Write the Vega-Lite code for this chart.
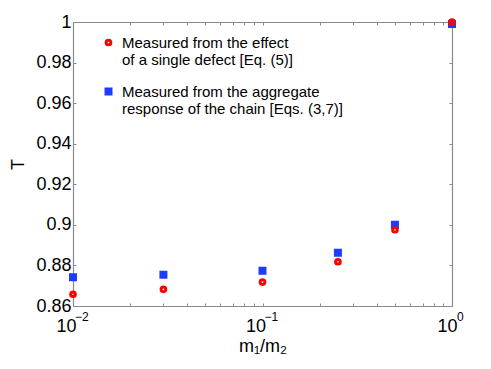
{
  "$schema": "https://vega.github.io/schema/vega-lite/v6.json",
  "width": 379,
  "height": 284,
  "autosize": "none",
  "padding": {"left": 73, "top": 22, "right": 39, "bottom": 63},
  "background": "white",
  "config": {
    "view": {"stroke": null},
    "font": "Liberation Sans",
    "axis": {
      "grid": false,
      "domainColor": "#8a8a8a",
      "domainWidth": 1.2,
      "tickColor": "#8a8a8a",
      "tickWidth": 1,
      "tickSize": -3,
      "labelColor": "black",
      "labelFont": "Liberation Sans",
      "labelFontSize": 18,
      "titleFont": "Liberation Sans",
      "titleFontSize": 18,
      "titleFontWeight": "normal",
      "titleColor": "black"
    },
    "legend": {
      "orient": "none",
      "legendX": 28,
      "legendY": 13,
      "padding": 0,
      "labelFont": "Liberation Sans",
      "labelFontSize": 15,
      "labelColor": "black",
      "labelOffset": 6,
      "labelLimit": 0,
      "rowPadding": 15,
      "symbolStrokeWidth": 3
    }
  },
  "datasets": {
    "pts": [
      {"r": 0.01, "T": 0.8742, "series": "chain"},
      {"r": 0.03, "T": 0.8754, "series": "chain"},
      {"r": 0.1, "T": 0.8774, "series": "chain"},
      {"r": 0.25, "T": 0.8863, "series": "chain"},
      {"r": 0.5, "T": 0.9001, "series": "chain"},
      {"r": 1, "T": 0.999, "series": "chain"},
      {"r": 0.01, "T": 0.8658, "series": "single"},
      {"r": 0.03, "T": 0.8682, "series": "single"},
      {"r": 0.1, "T": 0.8718, "series": "single"},
      {"r": 0.25, "T": 0.8818, "series": "single"},
      {"r": 0.5, "T": 0.8976, "series": "single"},
      {"r": 1, "T": 1.0, "series": "single"}
    ],
    "exps": [
      {"r": 0.01, "e": "−2", "k": "neg"},
      {"r": 0.1, "e": "−1", "k": "neg"},
      {"r": 1, "e": "0", "k": "zero"}
    ]
  },
  "layer": [
    {
      "data": {"name": "pts"},
      "mark": {"type": "point", "strokeWidth": 3, "opacity": 1},
      "encoding": {
        "x": {
          "field": "r", "type": "quantitative",
          "scale": {"type": "log", "domain": [0.01, 1], "nice": false},
          "axis": {
            "orient": "bottom",
            "values": [0.01, 0.02, 0.03, 0.04, 0.05, 0.06, 0.07, 0.08, 0.09, 0.1, 0.2, 0.3, 0.4, 0.5, 0.6, 0.7, 0.8, 0.9, 1],
            "labelExpr": "(datum.value == 0.01 || datum.value == 0.1 || datum.value == 1) ? '10' : ''",
            "labelOffset": {"condition": {"test": "datum.value == 1", "value": -5}, "value": -7},
            "labelFlush": false,
            "labelOverlap": false,
            "labelPadding": 14,
            "title": "m₁/m₂",
            "titlePadding": 2
          }
        },
        "y": {
          "field": "T", "type": "quantitative",
          "scale": {"domain": [0.86, 1], "nice": false, "zero": false},
          "axis": {
            "orient": "left",
            "values": [0.86, 0.88, 0.9, 0.92, 0.94, 0.96, 0.98, 1],
            "format": "~g",
            "labelPadding": 5,
            "title": "T",
            "titlePadding": 8
          }
        },
        "shape": {
          "field": "series", "type": "nominal",
          "title": null,
          "scale": {"domain": ["single", "chain"], "range": ["circle", "square"]},
          "legend": {
            "labelExpr": "datum.label == 'single' ? ['Measured from the effect', 'of a single defect [Eq. (5)]'] : ['Measured from the aggregate', 'response of the chain [Eqs. (3,7)]']"
          }
        },
        "stroke": {
          "field": "series", "type": "nominal",
          "title": null,
          "scale": {"domain": ["single", "chain"], "range": ["#ff0000", "#1e3cff"]}
        },
        "fill": {
          "field": "series", "type": "nominal",
          "title": null,
          "scale": {"domain": ["single", "chain"], "range": ["transparent", "#1e3cff"]}
        },
        "size": {
          "field": "series", "type": "nominal",
          "title": null,
          "scale": {"domain": ["single", "chain"], "range": [22, 25]}
        }
      }
    },
    {
      "data": {"name": "pts"},
      "mark": {"type": "point", "opacity": 0},
      "encoding": {
        "x": {
          "field": "r", "type": "quantitative",
          "axis": {
            "orient": "top",
            "values": [0.01, 0.02, 0.03, 0.04, 0.05, 0.06, 0.07, 0.08, 0.09, 0.1, 0.2, 0.3, 0.4, 0.5, 0.6, 0.7, 0.8, 0.9, 1],
            "labels": false,
            "title": null
          }
        },
        "y": {
          "field": "T", "type": "quantitative",
          "axis": {
            "orient": "right",
            "values": [0.86, 0.88, 0.9, 0.92, 0.94, 0.96, 0.98, 1],
            "labels": false,
            "title": null
          }
        }
      }
    },
    {
      "data": {"name": "exps"},
      "transform": [{"filter": "datum.k == 'neg'"}],
      "mark": {"type": "text", "align": "left", "baseline": "alphabetic", "fontSize": 12, "font": "Liberation Sans", "color": "black", "dx": 2, "dy": 15},
      "encoding": {
        "x": {"field": "r", "type": "quantitative", "axis": null},
        "y": {"datum": 0.86, "type": "quantitative", "axis": null},
        "text": {"field": "e"}
      }
    },
    {
      "data": {"name": "exps"},
      "transform": [{"filter": "datum.k == 'zero'"}],
      "mark": {"type": "text", "align": "left", "baseline": "alphabetic", "fontSize": 12, "font": "Liberation Sans", "color": "black", "dx": 5, "dy": 15},
      "encoding": {
        "x": {"field": "r", "type": "quantitative", "axis": null},
        "y": {"datum": 0.86, "type": "quantitative", "axis": null},
        "text": {"field": "e"}
      }
    }
  ],
  "resolve": {"axis": {"x": "independent", "y": "independent"}}
}
